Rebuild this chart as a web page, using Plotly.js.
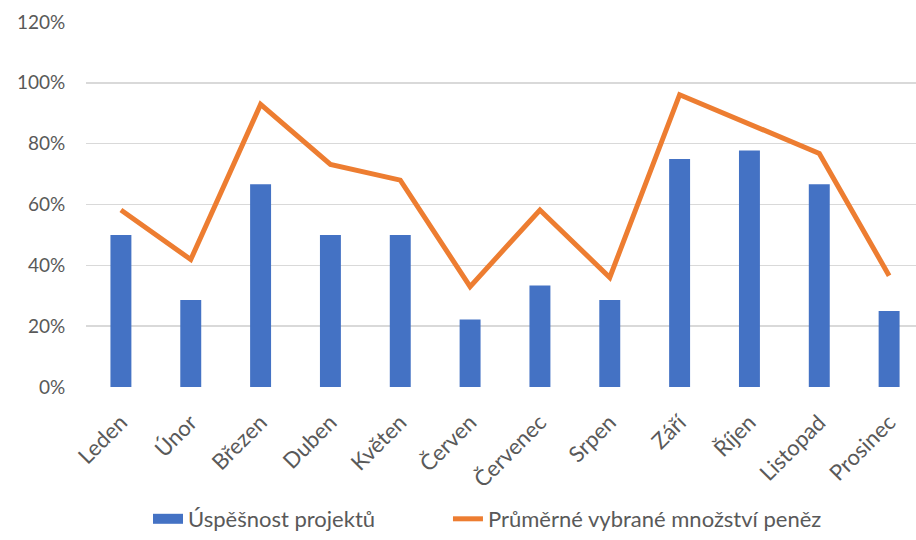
<!DOCTYPE html>
<html>
<head>
<meta charset="utf-8">
<script src="https://cdn.plot.ly/plotly-3.0.1.min.js"></script>
<style>html,body{margin:0;padding:0;background:#fff;}#chart{width:916px;height:540px;}</style>
</head>
<body>
<div id="chart"></div>
<script>
const months = ["Leden","Únor","Březen","Duben","Květen","Červen","Červenec","Srpen","Září","Říjen","Listopad","Prosinec"];
const successRate = [0.50, 0.2857, 0.6667, 0.50, 0.50, 0.2222, 0.3333, 0.2857, 0.75, 0.7778, 0.6667, 0.25];
const avgMoney = [0.582, 0.419, 0.929, 0.732, 0.68, 0.33, 0.582, 0.36, 0.961, 0.863, 0.768, 0.366];
const yTicks = [0, 0.2, 0.4, 0.6, 0.8, 1.0, 1.2];
const seriesNames = ["Úspěšnost projektů", "Průměrné vybrané množství peněz"];

const font = "Lato, 'Open Sans', sans-serif";
const idx = months.map((m,i)=>i);
const traces = [
  {type:'bar', x: idx, y: successRate, name: seriesNames[0], legendgroup:'a', showlegend:false,
   marker:{color:'#4472C4'}, width:0.3},
  // legend entry for the bar series drawn as a wide block, like the reference
  {type:'scatter', mode:'lines', x:[null], y:[null], name: seriesNames[0], legendgroup:'a',
   legend:'legend', line:{color:'#4472C4', width:13}, hoverinfo:'skip'},
  {type:'scatter', mode:'lines', x: idx, y: avgMoney, name: seriesNames[1], legend:'legend2',
   line:{color:'#ED7D31', width:5}}
];
const legFont = {family:font, size:22, color:'#595959'};
const layout = {
  width:916, height:540,
  margin:{l:86, r:0, t:22, b:151},
  paper_bgcolor:'#fff', plot_bgcolor:'#fff',
  font:{family:font, size:19, color:'#595959'},
  showlegend:true,
  legend:{orientation:'h', x:0.0747, xanchor:'left', y:-0.362, yanchor:'middle', font:legFont},
  legend2:{orientation:'h', x:0.4361, xanchor:'left', y:-0.362, yanchor:'middle', font:legFont},
  xaxis:{range:[-0.5, 11.385], tickmode:'array', tickvals: idx, ticktext: months,
         tickangle:-45, tickfont:{size:22}, showgrid:false, zeroline:false, showline:false,
         ticks:'outside', ticklen:13, tickcolor:'rgba(0,0,0,0)', fixedrange:true},
  yaxis:{range:[0,1.2], tickmode:'array', tickvals:yTicks, ticktext: yTicks.map(v=>Math.round(v*100)+'%'),
         showgrid:true, gridcolor:'#d9d9d9', gridwidth:1.5, zeroline:false, showline:false,
         ticks:'outside', ticklen:16, tickcolor:'rgba(0,0,0,0)', fixedrange:true}
};
Plotly.newPlot('chart', traces, layout, {displayModeBar:false, staticPlot:true});
</script>
</body>
</html>
